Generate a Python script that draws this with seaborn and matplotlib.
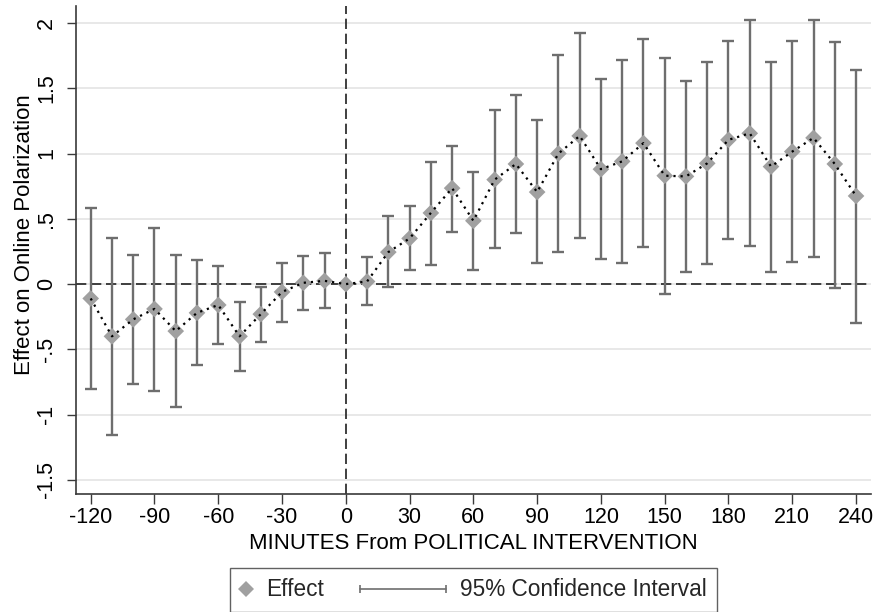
import numpy as np
import matplotlib
matplotlib.use("Agg")
import matplotlib.pyplot as plt
import seaborn as sns
from matplotlib.lines import Line2D
from matplotlib.legend_handler import HandlerBase, HandlerLine2D

# ---- data ----
minutes = [-120, -110, -100, -90, -80, -70, -60, -50, -40, -30, -20, -10, 0,
           10, 20, 30, 40, 50, 60, 70, 80, 90, 100, 110, 120, 130, 140, 150,
           160, 170, 180, 190, 200, 210, 220, 230, 240]
effect = [-0.11, -0.40, -0.27, -0.19, -0.36, -0.22, -0.16, -0.40, -0.23, -0.06,
          0.01, 0.025, 0.0, 0.02, 0.245, 0.35, 0.545, 0.735, 0.485, 0.80, 0.92,
          0.705, 1.00, 1.135, 0.88, 0.94, 1.08, 0.83, 0.825, 0.925, 1.105,
          1.155, 0.90, 1.015, 1.12, 0.92, 0.675]
ci_low = [-0.80, -1.155, -0.765, -0.815, -0.945, -0.62, -0.455, -0.665, -0.445,
          -0.29, -0.195, -0.185, np.nan, -0.16, -0.02, 0.105, 0.15, 0.40, 0.105,
          0.275, 0.39, 0.16, 0.245, 0.35, 0.195, 0.16, 0.285, -0.075, 0.095,
          0.155, 0.345, 0.29, 0.095, 0.17, 0.21, -0.03, -0.30]
ci_high = [0.585, 0.35, 0.22, 0.43, 0.225, 0.185, 0.135, -0.14, -0.02, 0.165,
           0.215, 0.235, np.nan, 0.21, 0.52, 0.595, 0.935, 1.06, 0.86, 1.33,
           1.45, 1.255, 1.755, 1.925, 1.57, 1.715, 1.875, 1.73, 1.555, 1.70,
           1.86, 2.02, 1.70, 1.86, 2.02, 1.855, 1.64]
xtick_vals = [-120, -90, -60, -30, 0, 30, 60, 90, 120, 150, 180, 210, 240]
ytick_vals = [-1.5, -1.0, -0.5, 0.0, 0.5, 1.0, 1.5, 2.0]
ytick_labels = ["-1.5", "-1", "-.5", "0", ".5", "1", "1.5", "2"]

# ---- style ----
sns.set_theme(style="ticks")
plt.rcParams["font.family"] = ["Liberation Sans", "DejaVu Sans"]

MARKER_C = "#a0a0a0"
BAR_C = "#6e6e6e"
AX_C = "#3a3a3a"

fig = plt.figure(figsize=(8.78, 6.12), dpi=100)
ax = fig.add_axes([0.0866, 0.1923, 0.9051, 0.7979])

x = np.array(minutes, dtype=float)
y = np.array(effect, dtype=float)
lo = np.array(ci_low, dtype=float)
hi = np.array(ci_high, dtype=float)
m = ~np.isnan(lo)

ax.yaxis.grid(True, color="#e6e6e6", lw=1.3)
ax.xaxis.grid(False)
ax.set_axisbelow(True)

ax.axhline(0, color="#383838", lw=1.35, ls=(0, (5.5, 2.5)), zorder=1.5)
ax.axvline(0, color="#383838", lw=1.35, ls=(0, (5.5, 2.5)), zorder=1.5)

ax.errorbar(x[m], y[m], yerr=[y[m] - lo[m], hi[m] - y[m]], fmt="none",
            ecolor=BAR_C, elinewidth=1.7, capsize=4, capthick=1.7, zorder=2)
sns.scatterplot(x=x, y=y, marker="D", s=72, color=MARKER_C, edgecolor="none",
                linewidth=0, ax=ax, zorder=3, legend=False)
sns.lineplot(x=x, y=y, color="black", lw=1.6, linestyle=(0, (1, 2.2)),
             errorbar=None, ax=ax, zorder=4, legend=False)

ax.set_xlim(-126.9, 246.9)
ax.set_ylim(-1.61, 2.13)
ax.set_xticks(xtick_vals)
ax.set_xticklabels([str(v) for v in xtick_vals])
ax.set_yticks(ytick_vals)
ax.set_yticklabels(ytick_labels, rotation=90, va="center")

for s in ["top", "right"]:
    ax.spines[s].set_visible(False)
for s in ["left", "bottom"]:
    ax.spines[s].set_color(AX_C)
    ax.spines[s].set_linewidth(1.2)

ax.tick_params(axis="both", which="major", direction="out", color=AX_C,
               width=1.0, labelsize=15.5, labelcolor="black",
               bottom=True, left=True)
ax.tick_params(axis="x", length=7, pad=2)
ax.tick_params(axis="y", length=6.7, pad=7)

ax.set_xlabel("MINUTES From POLITICAL INTERVENTION", fontsize=16, labelpad=4,
              color="black")
ax.set_ylabel("Effect on Online Polarization", fontsize=16, color="black")
ax.yaxis.set_label_coords(-0.052, 0.531)


# ---- legend ----
class CIHandler(HandlerBase):
    def create_artists(self, legend, orig_handle, xdescent, ydescent, width,
                       height, fontsize, trans):
        yy = height / 2.0 - ydescent
        x1 = width - xdescent
        x0 = x1 - 62.0
        line = Line2D([x0, x1], [yy, yy], color=BAR_C, lw=1.2)
        caps = Line2D([x0, x1], [yy, yy], ls="none", marker="|", ms=5.5,
                      mew=1.2, color=BAR_C)
        line.set_transform(trans)
        caps.set_transform(trans)
        return [line, caps]


h_eff = Line2D([], [], ls="none", marker="D", ms=8.2, color=MARKER_C,
               markeredgewidth=0)
h_ci = Line2D([], [], color=BAR_C)
leg = fig.legend([h_eff, h_ci], ["Effect", "95% Confidence Interval"],
                 loc="center", bbox_to_anchor=(473.5 / 878, 1 - 590 / 612),
                 ncol=2, frameon=True, fancybox=False, fontsize=16.3,
                 handlelength=0.5, handletextpad=0.64, columnspacing=4.9,
                 borderpad=0.45,
                 handler_map={h_eff: HandlerLine2D(numpoints=1),
                              h_ci: CIHandler()})
leg.get_frame().set_edgecolor(AX_C)
leg.get_frame().set_linewidth(1.0)
leg.get_frame().set_facecolor("white")

fig.savefig("out.png", dpi=100)
